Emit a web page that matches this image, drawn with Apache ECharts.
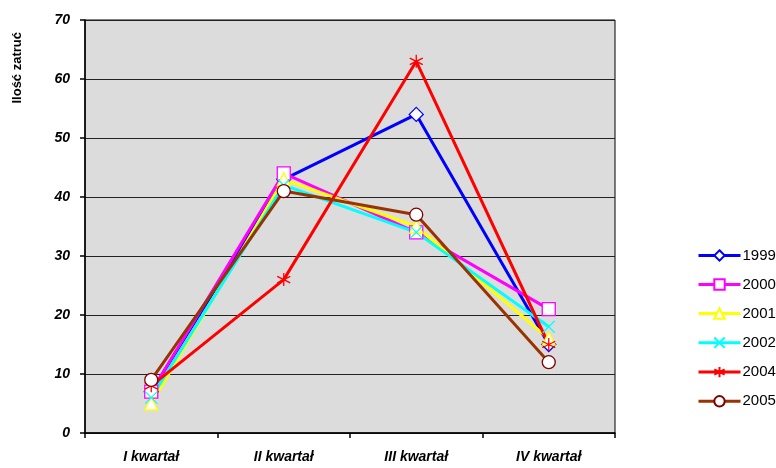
<!DOCTYPE html>
<html>
<head>
<meta charset="utf-8">
<script src="https://cdn.jsdelivr.net/npm/echarts@6/dist/echarts.min.js"></script>
<style>html,body{margin:0;padding:0;background:#fff}#c{width:776px;height:468px}</style>
</head>
<body>
<div id="c"></div>
<script>
var categories = ['I kwartał', 'II kwartał', 'III kwartał', 'IV kwartał'];
var s1999 = [7, 43, 54, 15];
var s2000 = [7, 44, 34, 21];
var s2001 = [5, 43, 35, 16];
var s2002 = [6, 42, 34, 18];
var s2004 = [8, 26, 63, 15];
var s2005 = [9, 41, 37, 12];
var yTicks = [0, 10, 20, 30, 40, 50, 60, 70];
var yTitle = 'Ilość zatruć';

var chart = echarts.init(document.getElementById('c'));
var font = 'Arial, "Liberation Sans", sans-serif';
function mk(name, data, color, symbol, size, fill, border) {
  return {
    name: name, type: 'line', data: data,
    symbol: symbol, symbolSize: size, showAllSymbol: true,
    lineStyle: {color: color, width: 3},
    itemStyle: {color: fill, borderColor: border || color, borderWidth: 1.3},
    emphasis: {disabled: true}
  };
}
var xPath = 'path://M0,0L10,10M10,0L0,10';
var starPath = 'path://M5,0L5,10M0.7,2.5L9.3,7.5M9.3,2.5L0.7,7.5';
chart.setOption({
  animation: false,
  backgroundColor: '#fff',
  grid: {left: 85, right: 161, top: 20, bottom: 35, show: true, backgroundColor: '#dcdcdc', borderColor: '#000', borderWidth: 1},
  graphic: [{type: 'text', left: 11, top: 32, rotation: Math.PI / 2,
    style: {text: yTitle, font: 'bold 13px ' + font, fill: '#000'}}],
  legend: {
    orient: 'vertical', left: 692, top: 243, itemWidth: 42, itemHeight: 13, itemGap: 14,
    lineStyle: {width: 3},
    textStyle: {fontFamily: font, fontSize: 15, color: '#000', padding: [0, 0, 0, -3]},
    data: ['1999', '2000', '2001', '2002', '2004', '2005']
  },
  xAxis: {
    type: 'category', data: categories, boundaryGap: true,
    axisLine: {lineStyle: {color: '#000', width: 1.5}},
    axisTick: {show: true, length: 5, lineStyle: {color: '#000', width: 1.5}},
    axisLabel: {color: '#000', fontFamily: font, fontSize: 14, fontWeight: 'bold', fontStyle: 'italic', margin: 17}
  },
  yAxis: {
    type: 'value', min: yTicks[0], max: yTicks[yTicks.length - 1], interval: 10,
    axisLine: {show: true, lineStyle: {color: '#000', width: 1.5}},
    axisTick: {show: true, length: 5, lineStyle: {color: '#000', width: 1.5}},
    splitLine: {show: true, lineStyle: {color: '#222', width: 1.2}},
    axisLabel: {color: '#000', fontFamily: font, fontSize: 14, fontWeight: 'bold', fontStyle: 'italic', margin: 15}
  },
  series: [
    mk('1999', s1999, '#0000ff', 'diamond', 14, '#fff', '#0000ff'),
    mk('2000', s2000, '#ff00ff', 'rect', 13, '#fff', '#ff00ff'),
    mk('2001', s2001, '#ffff00', 'triangle', 13, '#fff', '#ffff00'),
    mk('2002', s2002, '#00ffff', xPath, 12, 'none', '#00ffff'),
    mk('2004', s2004, '#ff0000', starPath, 13, 'none', '#ff0000'),
    mk('2005', s2005, '#993300', 'circle', 13, '#fff', '#800000')
  ]
});
</script>
</body>
</html>
